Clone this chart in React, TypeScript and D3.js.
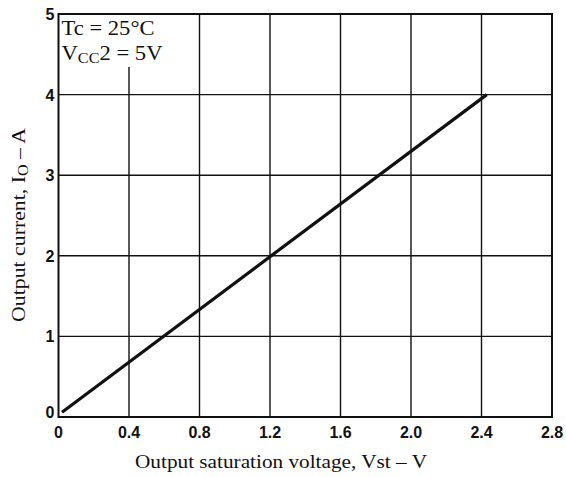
import { useEffect, useRef } from "react";
import * as d3 from "d3";

// Output current vs. output saturation voltage
const xTicks = [0, 0.4, 0.8, 1.2, 1.6, 2.0, 2.4, 2.8];
const xTickLabels = ["0", "0.4", "0.8", "1.2", "1.6", "2.0", "2.4", "2.8"];
const yTicks = [0, 1, 2, 3, 4, 5];
const lineVoltage = [0.02, 2.43];
const lineCurrent = [0.06, 4.0];

const width = 566;
const height = 477;

export default function App() {
  const svgRef = useRef<SVGSVGElement>(null);

  useEffect(() => {
    if (!svgRef.current) return;
    const svg = d3.select(svgRef.current);
    svg.selectAll("*").remove();

    const margin = { top: 14, right: 14, bottom: 60, left: 58.5 };
    const innerWidth = width - margin.left - margin.right;
    const innerHeight = height - margin.top - margin.bottom;

    const g = svg.append("g").attr("transform", `translate(${margin.left},${margin.top})`);

    const x = d3.scaleLinear().domain([0, 2.8]).range([0, innerWidth]);
    const y = d3.scaleLinear().domain([0, 5]).range([innerHeight, 0]);

    // grid
    g.append("g")
      .selectAll("line")
      .data(xTicks.slice(1, -1))
      .join("line")
      .attr("x1", (d) => x(d))
      .attr("x2", (d) => x(d))
      .attr("y1", 0)
      .attr("y2", innerHeight)
      .attr("stroke", "#111")
      .attr("stroke-width", 1.4);

    g.append("g")
      .selectAll("line")
      .data(yTicks.slice(1, -1))
      .join("line")
      .attr("x1", 0)
      .attr("x2", innerWidth)
      .attr("y1", (d) => y(d))
      .attr("y2", (d) => y(d))
      .attr("stroke", "#111")
      .attr("stroke-width", 1.4);

    // annotation box hides grid behind it
    g.append("rect")
      .attr("x", 1)
      .attr("y", 1)
      .attr("width", 110)
      .attr("height", 52)
      .attr("fill", "#fff");

    const ann = g.append("g")
      .attr("font-family", "'Liberation Serif', 'DejaVu Serif', serif")
      .attr("font-size", 21)
      .attr("fill", "#111");
    ann.append("text")
      .attr("x", 3)
      .attr("y", 21)
      .attr("textLength", 93)
      .attr("lengthAdjust", "spacingAndGlyphs")
      .text("Tc = 25°C");
    const t2 = ann.append("text")
      .attr("x", 3)
      .attr("y", 46)
      .attr("textLength", 101)
      .attr("lengthAdjust", "spacingAndGlyphs");
    t2.append("tspan").text("V");
    t2.append("tspan").attr("font-size", 15).attr("dy", 3).text("CC");
    t2.append("tspan").attr("dy", -3).text("2 = 5V");

    // frame
    g.append("rect")
      .attr("width", innerWidth)
      .attr("height", innerHeight)
      .attr("fill", "none")
      .attr("stroke", "#111")
      .attr("stroke-width", 2);

    // data line
    const pts = lineVoltage.map((v, i) => [v, lineCurrent[i]] as [number, number]);
    g.append("path")
      .datum(pts)
      .attr("fill", "none")
      .attr("stroke", "#111")
      .attr("stroke-width", 3.2)
      .attr("d", d3.line<[number, number]>().x((d) => x(d[0])).y((d) => y(d[1])));

    // tick labels
    g.append("g")
      .attr("font-family", "'Liberation Sans', Arial, sans-serif")
      .attr("font-weight", "bold")
      .attr("font-size", 16)
      .attr("fill", "#111")
      .selectAll("text")
      .data(xTicks)
      .join("text")
      .attr("x", (d) => x(d))
      .attr("y", innerHeight + 21)
      .attr("text-anchor", "middle")
      .text((d, i) => xTickLabels[i]);

    g.append("g")
      .attr("font-family", "'Liberation Sans', Arial, sans-serif")
      .attr("font-weight", "bold")
      .attr("font-size", 16)
      .attr("fill", "#111")
      .selectAll("text")
      .data(yTicks)
      .join("text")
      .attr("x", -4)
      .attr("y", (d) => y(d) + (d === 0 ? 1 : 6))
      .attr("text-anchor", "end")
      .text((d) => String(d));

    // axis titles
    g.append("text")
      .attr("x", 281 - margin.left)
      .attr("y", innerHeight + 51)
      .attr("text-anchor", "middle")
      .attr("font-family", "'Liberation Serif', 'DejaVu Serif', serif")
      .attr("font-size", 19)
      .attr("textLength", 292)
      .attr("lengthAdjust", "spacingAndGlyphs")
      .attr("fill", "#111")
      .text("Output saturation voltage, Vst – V");

    const yl = g.append("text")
      .attr("transform", `translate(${-margin.left + 25},${225 - margin.top}) rotate(-90)`)
      .attr("text-anchor", "middle")
      .attr("font-family", "'Liberation Serif', 'DejaVu Serif', serif")
      .attr("font-size", 19)
      .attr("textLength", 194)
      .attr("lengthAdjust", "spacingAndGlyphs")
      .attr("fill", "#111");
    yl.append("tspan").text("Output current, I");
    yl.append("tspan").attr("font-size", 14).attr("dy", 3).text("O");
    yl.append("tspan").attr("dy", -3).text(" – A");
  }, []);

  return (
    <svg
      ref={svgRef}
      width={width}
      height={height}
      viewBox={`0 0 ${width} ${height}`}
      style={{ position: "absolute", left: 0, top: 0, background: "#fff" }}
    />
  );
}
